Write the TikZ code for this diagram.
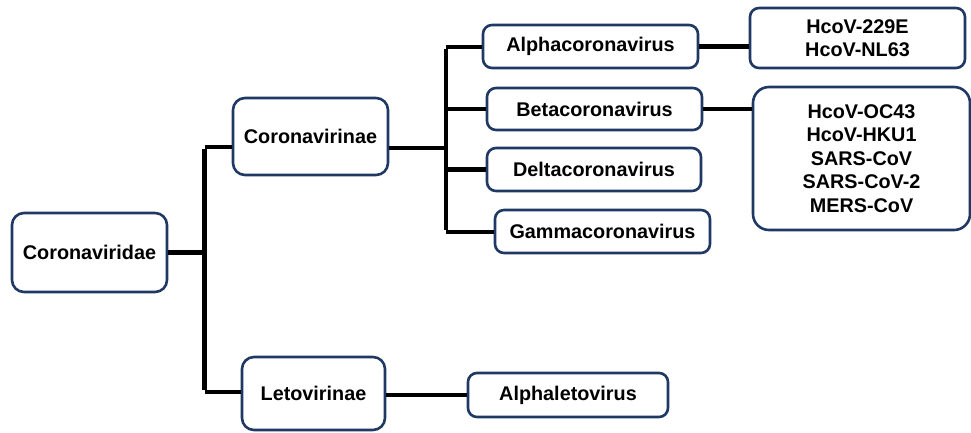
\documentclass[tikz,border=0pt]{standalone}
\usepackage{fontspec}
\setmainfont{Liberation Sans}
\definecolor{boxline}{HTML}{1F3864}
\begin{document}
\begin{tikzpicture}[x=1pt,y=-1pt,
  box/.style={draw=boxline, line width=2.6pt, rounded corners=9pt, fill=white,
    font=\fontsize{19.8}{23.5}\selectfont\bfseries, align=center, inner sep=0pt},
  conn/.style={line width=4.6pt, black}]
\useasboundingbox (0,0) rectangle (971,432);
% nodes
\node[box, minimum width=155pt, minimum height=79pt, rounded corners=12pt] (cvd) at (89.5,252.5) {Coronaviridae};
\node[box, minimum width=155pt, minimum height=77pt, rounded corners=12pt] (cvn) at (310.5,136.5) {Coronavirinae};
\node[box, minimum width=143pt, minimum height=73pt, rounded corners=12pt] (let) at (313.5,393.5) {Letovirinae};
\node[box, minimum width=215pt, minimum height=43pt] (alpha) at (590.5,46.5) {Alphacoronavirus};
\node[box, minimum width=215pt, minimum height=42pt] (beta) at (594.5,109) {Betacoronavirus};
\node[box, minimum width=214pt, minimum height=43pt] (delta) at (594,169.5) {Deltacoronavirus};
\node[box, minimum width=215pt, minimum height=43pt] (gamma) at (602.5,231.5) {Gammacoronavirus};
\node[box, minimum width=200pt, minimum height=44pt] (alet) at (568,395) {Alphaletovirus};
\node[box, minimum width=215pt, minimum height=60pt] (hc1) at (857.5,38) {HcoV-229E\\HcoV-NL63};
\node[box, minimum width=217pt, minimum height=143pt, rounded corners=16pt] (hc2) at (861.5,158.5) {HcoV-OC43\\HcoV-HKU1\\SARS-CoV\\SARS-CoV-2\\MERS-CoV};
% junction coordinates
\coordinate (t1) at (204.5,147);
\coordinate (t2) at (204.5,392);
\coordinate (s1) at (446,47);
\coordinate (s2) at (446,232);
\coordinate (sm) at (446,148);
% connectors
\draw[conn] (cvd.east) -- (cvd.east -| t1);
\draw[conn] ([yshift=-2.3pt]t1) -- ([yshift=2.3pt]t2);
\draw[conn] (t1) -- (cvn.west |- t1);
\draw[conn] (t2) -- (let.west |- t2);
\draw[conn] (cvn.east |- sm) -- (sm);
\draw[conn] ([yshift=-2.3pt]s1) -- ([yshift=2.3pt]s2);
\draw[conn] (s1) -- (alpha.west |- s1);
\draw[conn] (beta.west -| s1) -- (beta.west);
\draw[conn] (delta.west -| s1) -- (delta.west);
\draw[conn] (s2) -- (gamma.west |- s2);
\draw[conn] (alpha.east) -- (hc1.west |- alpha.east);
\draw[conn] (beta.east) -- (hc2.west |- beta.east);
\draw[conn] (let.east |- alet.west) -- (alet.west);
\end{tikzpicture}
\end{document}
